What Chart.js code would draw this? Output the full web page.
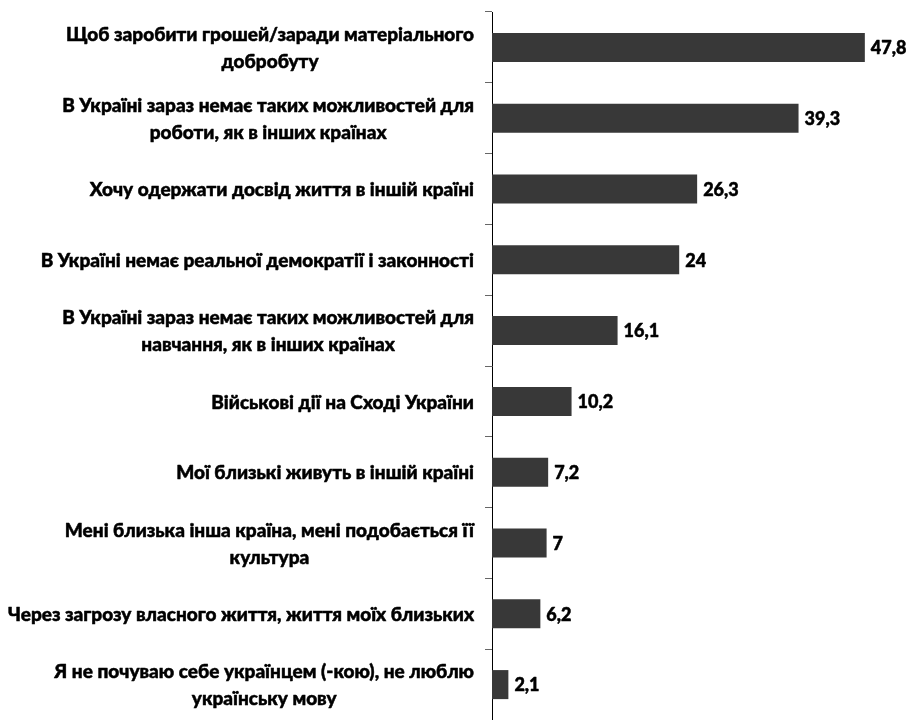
<!DOCTYPE html>
<html>
<head>
<meta charset="utf-8">
<script src="https://cdn.jsdelivr.net/npm/chart.js@4/dist/chart.umd.min.js"></script>
<style>
html,body{margin:0;padding:0;background:#fff;}
#wrap{width:910px;height:720px;}
</style>
</head>
<body>
<div id="wrap"><canvas id="c" width="910" height="720"></canvas></div>
<script>
const categories = [
  ["Щоб заробити грошей/заради матеріального", "добробуту"],
  ["В Україні зараз немає таких можливостей для", "роботи, як в інших країнах"],
  ["Хочу одержати досвід життя в іншій країні"],
  ["В Україні немає реальної демократії і законності"],
  ["В Україні зараз немає таких можливостей для", "навчання, як в інших країнах"],
  ["Військові дії на Сході України"],
  ["Мої близькі живуть в іншій країні"],
  ["Мені близька інша країна, мені подобається її", "культура"],
  ["Через загрозу власного життя, життя моїх близьких"],
  ["Я не почуваю себе українцем (-кою), не люблю", "українську мову"]
];
const values = [47.8, 39.3, 26.3, 24, 16.1, 10.2, 7.2, 7, 6.2, 2.1];

const FONT = '900 19px Lato, "Open Sans", sans-serif';
const NUMFONT = '900 18px Lato, "Open Sans", sans-serif';

function boldText(ctx, t, x, y) {
  ctx.fillText(t, x, y);
  ctx.strokeText(t, x, y);
}

const valueLabels = {
  id: 'valueLabels',
  afterDatasetsDraw(chart) {
    const ctx = chart.ctx;
    const meta = chart.getDatasetMeta(0);
    ctx.save();
    ctx.font = NUMFONT;
    ctx.fillStyle = '#000';
    ctx.strokeStyle = '#000';
    ctx.lineWidth = 0.5;
    ctx.lineJoin = 'round';
    ctx.textAlign = 'left';
    ctx.textBaseline = 'middle';
    meta.data.forEach((bar, i) => {
      const txt = String(values[i]).replace('.', ',');
      boldText(ctx, txt, bar.x + 6, bar.y + 1);
    });
    ctx.restore();
  }
};

const catLabels = {
  id: 'catLabels',
  afterDraw(chart) {
    const ctx = chart.ctx;
    const ys = chart.scales.y;
    const right = chart.chartArea.left - 18;
    const lh = 27;
    ctx.save();
    ctx.font = FONT;
    ctx.fillStyle = '#000';
    ctx.strokeStyle = '#000';
    ctx.lineWidth = 0.5;
    ctx.lineJoin = 'round';
    ctx.textAlign = 'center';
    ctx.textBaseline = 'middle';
    categories.forEach((lines, i) => {
      const y = ys.getPixelForValue(i);
      let w = 0;
      lines.forEach(l => { w = Math.max(w, ctx.measureText(l).width); });
      const cx = right - w / 2;
      lines.forEach((l, k) => {
        boldText(ctx, l, cx, y + 1 + (k - (lines.length - 1) / 2) * lh);
      });
    });
    ctx.restore();
  }
};

function draw() {
  new Chart(document.getElementById('c'), {
    type: 'bar',
    data: {
      labels: categories.map(c => c.join(' ')),
      datasets: [{
        data: values,
        backgroundColor: '#383838',
        borderWidth: 0,
        categoryPercentage: 1,
        barPercentage: 0.41
      }]
    },
    options: {
      indexAxis: 'y',
      responsive: false,
      animation: false,
      layout: { padding: { top: 12, right: 28, bottom: 0, left: 0 } },
      plugins: { legend: { display: false }, tooltip: { enabled: false } },
      scales: {
        x: { display: false, min: 0, max: 50 },
        y: {
          offset: true,
          ticks: { display: false },
          grid: { drawOnChartArea: false, drawTicks: true, tickLength: 7, color: '#666', lineWidth: 1, offset: true },
          border: { display: true, color: '#000', width: 1 },
          afterFit(scale) { scale.width = 492; }
        }
      }
    },
    plugins: [valueLabels, catLabels]
  });
}
if (document.fonts && document.fonts.load) {
  Promise.all([document.fonts.load(FONT), document.fonts.load(NUMFONT)]).then(draw, draw);
} else { draw(); }
</script>
</body>
</html>
